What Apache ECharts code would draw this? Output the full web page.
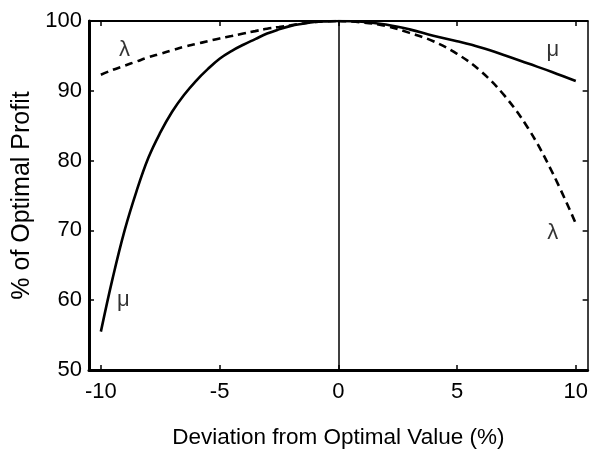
<!DOCTYPE html>
<html>
<head>
<meta charset="utf-8">
<script src="https://cdn.jsdelivr.net/npm/echarts@6/dist/echarts.min.js"></script>
<style>
  html, body { margin: 0; padding: 0; background: #fff; }
  #chart { width: 591px; height: 455px; }
</style>
</head>
<body>
<div id="chart"></div>
<script>
// curve data
const xLeft = [-10, -9.5, -9, -8.5, -8, -7.5, -7, -6.5, -6, -5.5, -5, -4.5, -4, -3.5, -3, -2.5, -2, -1.5, -1, -0.5, 0];
const muLeft = [55.5, 63.2, 70.0, 75.6, 80.4, 84.0, 87.0, 89.4, 91.4, 93.1, 94.6, 95.7, 96.6, 97.4, 98.2, 98.8, 99.3, 99.6, 99.85, 99.95, 100];
const lambdaLeft = [92.3, 93.0, 93.6, 94.2, 94.8, 95.3, 95.8, 96.3, 96.7, 97.1, 97.5, 97.85, 98.2, 98.55, 98.9, 99.15, 99.4, 99.65, 99.85, 99.95, 100];

const xRight = [0, 1, 2, 3, 4, 5, 6, 7, 8, 9, 10];
const muRight = [100, 99.9, 99.5, 98.8, 97.9, 97.1, 96.2, 95.1, 93.9, 92.7, 91.4];
const lambdaRight = [100, 99.8, 99.3, 98.3, 97.1, 95.3, 92.8, 89.3, 84.6, 78.4, 71.0];

const xTicks = [-10, -5, 0, 5, 10];
const yTicks = [50, 60, 70, 80, 90, 100];

// curve labels (data coordinates)
const curveLabels = [
    { name: 'λ', value: [-9.0, 95.9] },
    { name: 'μ', value: [-9.05, 60.0] },
    { name: 'μ', value: [9.03, 95.9] },
    { name: 'λ', value: [9.03, 69.6] }
];

function pairs(xs, ys) {
    return xs.map((x, i) => [x, ys[i]]);
}

const font = '"Liberation Sans", Arial, sans-serif';

function curve(xs, ys, dashed) {
    return {
        type: 'line',
        data: pairs(xs, ys),
        showSymbol: false,
        smooth: 0.4,
        silent: true,
        lineStyle: {
            color: '#000',
            width: 2.6,
            type: dashed ? [8, 5] : 'solid'
        }
    };
}

const chart = echarts.init(document.getElementById('chart'));

const option = {
    animation: false,
    backgroundColor: '#fff',
    grid: { left: 89, right: 3, top: 21, bottom: 85 },
    xAxis: [{
        type: 'value',
        min: -10.5,
        max: 10.5,
        name: 'Deviation from Optimal Value (%)',
        nameLocation: 'middle',
        nameGap: 56,
        nameTextStyle: { color: '#000', fontSize: 22.5, fontFamily: font },
        axisLine: { show: true, onZero: false, lineStyle: { color: '#000', width: 3 } },
        axisTick: { show: true, inside: true, length: 5, customValues: xTicks, lineStyle: { color: '#000', width: 1.5 } },
        axisLabel: { customValues: xTicks, color: '#000', fontSize: 22, fontFamily: font, margin: 11 },
        splitLine: { show: false }
    }, {
        type: 'value',
        position: 'top',
        min: -10.5,
        max: 10.5,
        axisLine: { show: true, onZero: false, lineStyle: { color: '#000', width: 2 } },
        axisTick: { show: true, inside: true, length: 5, customValues: xTicks, lineStyle: { color: '#000', width: 1.5 } },
        axisLabel: { show: false },
        splitLine: { show: false }
    }],
    yAxis: [{
        type: 'value',
        min: 50,
        max: 100,
        interval: 10,
        name: '% of Optimal Profit',
        nameLocation: 'middle',
        nameGap: 52,
        nameTextStyle: { color: '#000', fontSize: 25, fontFamily: font },
        axisLine: { show: true, onZero: false, lineStyle: { color: '#000', width: 3 } },
        axisTick: { show: true, inside: true, length: 5, lineStyle: { color: '#000', width: 1.5 } },
        axisLabel: { customValues: yTicks, color: '#000', fontSize: 22, fontFamily: font, margin: 7 },
        splitLine: { show: false }
    }, {
        type: 'value',
        position: 'right',
        min: 50,
        max: 100,
        interval: 10,
        axisLine: { show: true, onZero: false, lineStyle: { color: '#000', width: 1.5 } },
        axisTick: { show: true, inside: true, length: 5, lineStyle: { color: '#000', width: 1.5 } },
        axisLabel: { show: false },
        splitLine: { show: false }
    }],
    series: [
        curve(xLeft, muLeft, false),
        curve(xLeft, lambdaLeft, true),
        curve(xRight, muRight, false),
        curve(xRight, lambdaRight, true),
        {
            type: 'line',
            data: [],
            silent: true,
            markLine: {
                symbol: 'none',
                silent: true,
                label: { show: false },
                lineStyle: { color: '#000', width: 1.5, type: 'solid' },
                data: [{ xAxis: 0 }]
            }
        },
        {
            type: 'scatter',
            data: curveLabels,
            symbolSize: 0,
            silent: true,
            label: {
                show: true,
                position: 'inside',
                formatter: p => p.name,
                color: '#000',
                fontSize: 22,
                fontFamily: font
            }
        }
    ]
};

chart.setOption(option);

window.addEventListener('resize', function() {
    chart.resize();
});
</script>
</body>
</html>
